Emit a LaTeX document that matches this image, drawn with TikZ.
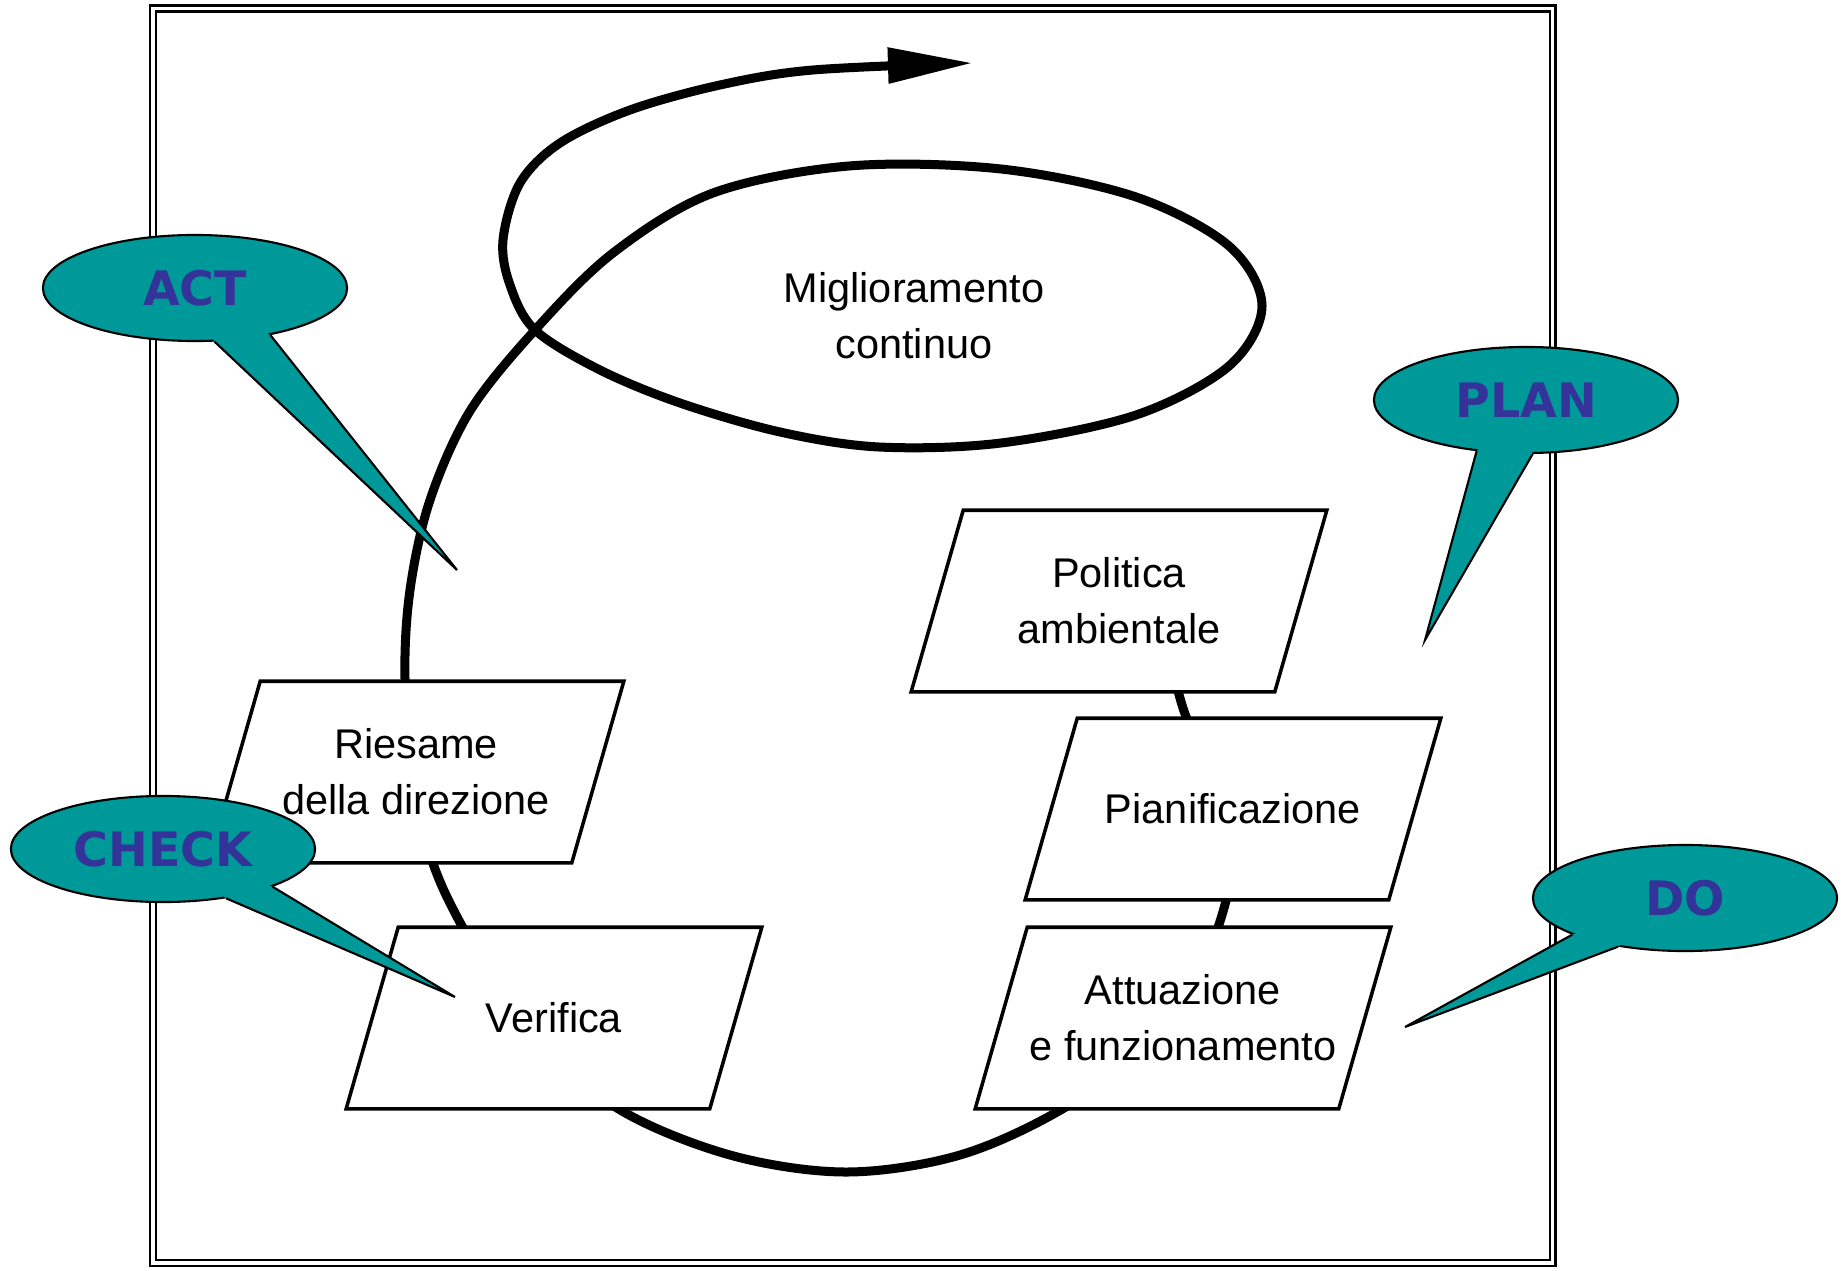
\documentclass[tikz,border=0pt]{standalone}
\usepackage{fontspec}
\setmainfont{Liberation Sans}
\newfontfamily\bubblefont{DejaVu Sans}
\usetikzlibrary{shapes.geometric, arrows.meta, positioning, calc, backgrounds}
\definecolor{Teal}{HTML}{009999}
\definecolor{Indigo}{HTML}{333399}

\tikzset{
  stage/.style={rectangle, minimum width=3.62cm, minimum height=1.8cm, inner sep=0pt,
                align=center, font=\fontsize{11.8}{16}\selectfont},
  stageline/.style={draw=black, line width=1pt, fill=white},
  bubble/.style={ellipse, draw=black, line width=0.6pt, fill=Teal, inner sep=0pt,
                 minimum width=3.04cm, minimum height=1.06cm, text=Indigo,
                 font=\bubblefont\bfseries\fontsize{13.5}{14}\selectfont},
  tailline/.style={draw=black, line width=0.6pt},
  cycleline/.style={line width=0.9mm, line join=round},
}

\begin{document}
\begin{tikzpicture}[x=0.01cm, y=-0.01cm]
    \useasboundingbox (0,0) rectangle (1843,1270);

    % Double frame
    \draw[line width=0.65pt] (150,5.5) rectangle (1555.5,1266);
    \draw[line width=0.75pt] (156,11.5) rectangle (1550,1260);

    % Stages of the cycle
    \node[stage] (pol)  at (1119,601)  {Politica\\ambientale};
    \node[stage] (pian) at (1233,809)  {Pianificazione};
    \node[stage] (att)  at (1183,1018) {Attuazione\\e funzionamento};
    \node[stage] (ver)  at (554,1018)  {Verifica};
    \node[stage] (ries) at (416,772)   {Riesame\\della direzione};

    \node[align=center, font=\fontsize{11.8}{16}\selectfont] (mig) at (914,316)
        {Miglioramento\\continuo};

    \begin{scope}[on background layer]
        % Spiral
        \draw[cycleline, -{Triangle[length=0.85cm, width=0.34cm]}]
            plot[smooth, tension=0.55] coordinates {
                (1150,560) (1182,705) (1230,820) (1222,915) (1165,1035)
                (1064,1108) (960,1155) (846,1172) (730,1155) (617,1108)
                (528,1030) (446,895) (414,790) (405,679) (410,590)
                (430,500) (470,411) (535,330) (613,253) (713,193)
                (849,166) (1001,169) (1136,197) (1229,246) (1262,306)
                (1229,366) (1136,415) (1001,443) (879,447) (780,432)
                (680,403) (600,370) (535,330) (510,285) (503,240)
                (520,183) (560,143) (630,110) (720,85) (813,70) (973,63)};
        % Parallelogram outlines
        \foreach \n in {pol, pian, att, ver, ries}
            \draw[stageline] ([xshift=0.26cm]\n.north west) -- ([xshift=0.26cm]\n.north east)
                -- ([xshift=-0.26cm]\n.south east) -- ([xshift=-0.26cm]\n.south west) -- cycle;
    \end{scope}

    % ACT
    \node[bubble] (actbub) at (195,288) {ACT};
    \coordinate (acttip) at (457,570);
    \fill[Teal] ($(actbub.center)!0.85!(actbub.-70)$) -- (actbub.-70) -- (acttip)
        -- (actbub.-32) -- ($(actbub.center)!0.85!(actbub.-32)$) -- cycle;
    \draw[tailline] (actbub.-70) -- (acttip) -- (actbub.-32);

    % PLAN
    \node[bubble] (planbub) at (1526,400) {PLAN};
    \coordinate (plantip) at (1425,640);
    \fill[Teal] ($(planbub.center)!0.85!(planbub.226)$) -- (planbub.226) -- (plantip)
        -- (planbub.277) -- ($(planbub.center)!0.85!(planbub.277)$) -- cycle;
    \draw[tailline] (planbub.226) -- (plantip) -- (planbub.277);

    % DO
    \node[bubble] (dobub) at (1685,898) {DO};
    \coordinate (dotip) at (1405,1027);
    \fill[Teal] ($(dobub.center)!0.85!(dobub.198)$) -- (dobub.198) -- (dotip)
        -- (dobub.216) -- ($(dobub.center)!0.85!(dobub.216)$) -- cycle;
    \draw[tailline] (dobub.198) -- (dotip) -- (dobub.216);

    % CHECK
    \node[bubble] (checkbub) at (163,849) {CHECK};
    \coordinate (checktip) at (455,997);
    \fill[Teal] ($(checkbub.center)!0.85!(checkbub.-38)$) -- (checkbub.-38) -- (checktip)
        -- (checkbub.-19) -- ($(checkbub.center)!0.85!(checkbub.-19)$) -- cycle;
    \draw[tailline] (checkbub.-38) -- (checktip) -- (checkbub.-19);
\end{tikzpicture}
\end{document}
